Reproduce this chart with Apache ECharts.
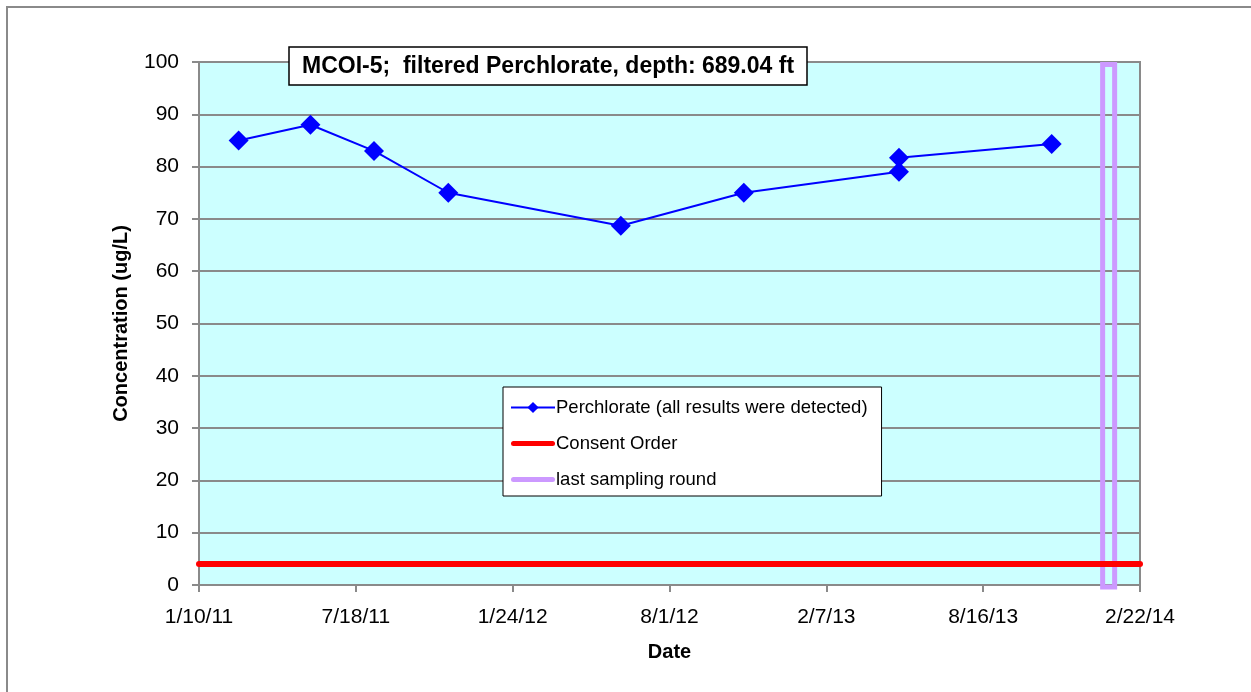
<!DOCTYPE html>
<html>
<head>
<meta charset="utf-8">
<title>MCOI-5 Perchlorate</title>
<script src="https://cdn.jsdelivr.net/npm/echarts@6/dist/echarts.min.js"></script>
<style>
  html, body { margin: 0; padding: 0; background: #fff; }
  #chart { width: 1251px; height: 692px; }
</style>
</head>
<body>
<div id="chart"></div>
<script>
// x axis tick labels (190 days apart)
const tickLabels = ['1/10/11', '7/18/11', '1/24/12', '8/1/12', '2/7/13', '8/16/13', '2/22/14'];
const tickStep = 190;

// perchlorate samples, in the order the line joins them
const sampleDates = ['2/27/11', '5/25/11', '8/10/11', '11/8/11', '6/4/12', '10/31/12', '5/7/13', '5/7/13', '11/8/13'];
const perchlorate = [85, 88, 83, 75, 68.7, 75, 79, 81.7, 84.3];

const consentOrder = 4;
const lastRoundDate = '1/16/14';

function dayOffset(s) {
  const [m, d, y] = s.split('/').map(Number);
  return (Date.UTC(2000 + y, m - 1, d) - Date.UTC(2011, 0, 10)) / 86400000;
}

const xMax = (tickLabels.length - 1) * tickStep;
const lastX = dayOffset(lastRoundDate);

// flat bar used as legend icon for the thick lines
const barIcon = 'path://M2.5,0 L41.5,0 A2.5,2.5 0 0 1 41.5,5 L2.5,5 A2.5,2.5 0 0 1 2.5,0 Z';

const chart = echarts.init(document.getElementById('chart'));

chart.setOption({
  animation: false,
  backgroundColor: '#fff',
  textStyle: { fontFamily: 'Liberation Sans, Arial, sans-serif' },
  graphic: [{
    type: 'rect',
    shape: { x: 7, y: 7, width: 1400, height: 900 },
    style: { fill: 'none', stroke: '#8a8a8a', lineWidth: 2 },
    silent: true
  }],
  title: {
    text: 'MCOI-5;  filtered Perchlorate, depth: 689.04 ft',
    left: 289,
    top: 47,
    padding: [8, 13, 7, 13],
    backgroundColor: '#fff',
    borderColor: '#000',
    borderWidth: 1.5,
    textStyle: { fontSize: 23, fontWeight: 'bold', color: '#000' }
  },
  legend: {
    orient: 'vertical',
    left: 503,
    top: 387,
    padding: [11, 14, 7, 7],
    itemWidth: 44,
    itemHeight: 14,
    itemGap: 17,
    backgroundColor: '#fff',
    borderColor: '#000',
    borderWidth: 1,
    textStyle: { fontSize: 18.5, color: '#000', padding: [0, 0, 0, -4] },
    data: [
      { name: 'Perchlorate (all results were detected)' },
      { name: 'Consent Order', icon: barIcon },
      { name: 'last sampling round', icon: barIcon }
    ]
  },
  grid: {
    left: 199,
    right: 111,
    top: 62,
    bottom: 107,
    show: true,
    backgroundColor: '#ccffff',
    borderColor: '#8a8a8a',
    borderWidth: 2
  },
  xAxis: {
    type: 'value',
    min: 0,
    max: xMax,
    interval: tickStep,
    name: 'Date',
    nameLocation: 'middle',
    nameGap: 57,
    nameTextStyle: { fontSize: 20, fontWeight: 'bold', color: '#000' },
    axisLine: { lineStyle: { color: '#8a8a8a', width: 2 } },
    axisTick: { show: true, length: 7, lineStyle: { color: '#8a8a8a', width: 2 } },
    axisLabel: {
      fontSize: 21,
      color: '#000',
      margin: 22,
      formatter: v => tickLabels[Math.round(v / tickStep)]
    },
    splitLine: { show: false }
  },
  yAxis: {
    type: 'value',
    min: 0,
    max: 100,
    interval: 10,
    name: 'Concentration (ug/L)',
    nameLocation: 'middle',
    nameGap: 68,
    nameTextStyle: { fontSize: 20, fontWeight: 'bold', color: '#000' },
    axisLine: { show: true, lineStyle: { color: '#8a8a8a', width: 2 } },
    axisTick: { show: true, length: 7, lineStyle: { color: '#8a8a8a', width: 2 } },
    axisLabel: { fontSize: 21, color: '#000', margin: 20 },
    splitLine: { lineStyle: { color: '#8a8a8a', width: 2 } }
  },
  series: [
    {
      name: 'last sampling round',
      type: 'custom',
      z: 2,
      color: '#cc99ff',
      data: [[lastX, 0, 100]],
      renderItem: (params, api) => {
        const top = api.coord([api.value(0), api.value(2)]);
        const bottom = api.coord([api.value(0), api.value(1)]);
        return {
          type: 'rect',
          shape: { x: top[0] - 6, y: top[1] + 2.5, width: 12, height: bottom[1] - top[1] - 0.5 },
          style: { fill: 'none', stroke: '#cc99ff', lineWidth: 5 }
        };
      }
    },
    {
      name: 'Consent Order',
      type: 'line',
      z: 3,
      symbol: 'none',
      color: '#ff0000',
      lineStyle: { width: 6, color: '#ff0000', cap: 'round' },
      data: [[0, consentOrder], [xMax, consentOrder]]
    },
    {
      name: 'Perchlorate (all results were detected)',
      type: 'line',
      z: 4,
      color: '#0000ff',
      symbol: 'diamond',
      symbolSize: 20,
      lineStyle: { width: 2, color: '#0000ff' },
      itemStyle: { color: '#0000ff' },
      data: sampleDates.map((d, i) => [dayOffset(d), perchlorate[i]])
    }
  ]
});
</script>
</body>
</html>
